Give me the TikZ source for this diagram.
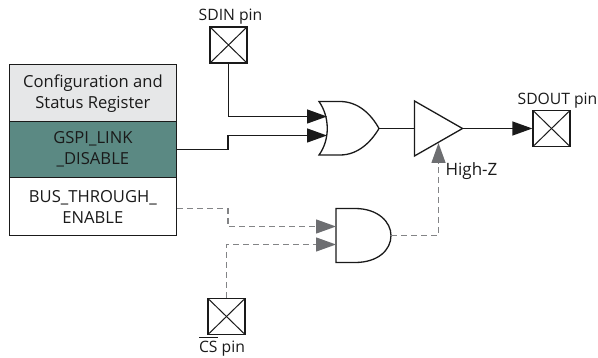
\documentclass[tikz,border=0pt]{standalone}
\usepackage{fontspec}
\setmainfont{Open Sans}
\usetikzlibrary{arrows.meta,calc}
\definecolor{teal1}{HTML}{5B8983}
\definecolor{gray1}{HTML}{E6E7E8}
\definecolor{dash1}{HTML}{6D6E71}
\definecolor{ink}{HTML}{1A1A1A}
\tikzset{
  every node/.style={font=\fontsize{15.7}{21}\selectfont,text=ink},
  regbox/.style={draw=ink,line width=1.3pt,minimum width=167.5pt,inner sep=0pt,align=center,anchor=north west,font=\fontsize{16.6}{21}\selectfont},
  pinbox/.style={draw=ink,line width=1.3pt,minimum width=37pt,minimum height=36pt,inner sep=0pt,
    path picture={\draw[ink,line width=1pt] (path picture bounding box.north west)--(path picture bounding box.south east)
      (path picture bounding box.north east)--(path picture bounding box.south west);}},
  gate/.style={draw=ink,line width=1.3pt,fill=white,line join=miter},
  wire/.style={draw=ink,line width=1.3pt},
  sigarrow/.style={wire,-{Triangle[length=20pt,width=14pt]}},
  dwire/.style={draw=dash1!85,line width=1.3pt,dash pattern=on 6pt off 4pt},
  darrow/.style={dwire,-{Triangle[length=20pt,width=14pt,color=dash1]}},
  lab/.style={inner sep=0pt},
}
\begin{document}
\begin{tikzpicture}[x=1pt,y=-1pt]
\useasboundingbox (0,0) rectangle (598,358);
\node[regbox,fill=gray1,minimum height=57pt] (cfg) at (8.5,64) {Configuration and\\Status Register};
\node[regbox,fill=teal1,minimum height=56pt] (gspi) at (8.5,121) {GSPI\_LINK\\\_DISABLE};
\node[regbox,fill=white,minimum height=58pt] (bus) at (8.5,177) {BUS\_THROUGH\_\\ENABLE};
\node[pinbox] (sdin) at (228.5,45) {};
\node[pinbox] (sdout) at (551.5,128.5) {};
\node[pinbox] (cs) at (226.5,316.5) {};
\node[lab] (sdinl) at (230.5,17) {SDIN pin};
\node[lab] (sdoutl) at (557.5,101) {SDOUT pin};
\node[lab,font=\fontsize{17}{21}\selectfont] (highz) at (471.5,171) {High-Z};
\node[lab] (csl) at (222,349) {CS pin};
\coordinate (barL) at (199,337.5);
\coordinate (barR) at (218,337.5);
\draw[ink,line width=1.3pt] (barL) -- (barR);
% gate terminals
\coordinate (orIa) at (327,116.5);
\coordinate (orIb) at (327,135.5);
\coordinate (orO) at (379,128.5);
\coordinate (bufI) at (414.5,128.5);
\coordinate (bufO) at (462.5,128.5);
\coordinate (bufE) at (438.5,143);
\coordinate (andIa) at (336,226.5);
\coordinate (andIb) at (336,244.5);
\coordinate (andO) at (391,235.5);
% gates
\draw[gate] (319,101.5) -- (340,101.5) .. controls (358,101.5) and (371,114) .. (orO)
  .. controls (371,142) and (358,155) .. (340,155) -- (319,155)
  .. controls (330,140) and (330,117) .. cycle;
\draw[gate] (414.5,101) -- (bufO) -- (414.5,156) -- cycle;
\draw[gate] (336,208.5) -- (355,208.5) .. controls (378,208.5) and (391,222) .. (andO)
  .. controls (391,250) and (378,262.5) .. (355,262.5) -- (336,262.5) -- cycle;
% connectors
\draw[sigarrow] (sdin.south) -- (228.5,116.5) -- (orIa);
\draw[sigarrow] (gspi.east |- 0,149.5) -- (228,149.5) -- (228,135.5) -- (orIb);
\draw[wire] (orO) -- (bufI);
\draw[sigarrow] (bufO) -- (sdout.west);
\draw[darrow] (bus.east |- 0,208.5) -- (228,208.5) -- (228,226.5) -- (andIa);
\draw[darrow] (cs.north) -- (226.5,244.5) -- (andIb);
\draw[darrow] (andO) -- (438.5,235.5) -- (bufE);
\end{tikzpicture}
\end{document}
